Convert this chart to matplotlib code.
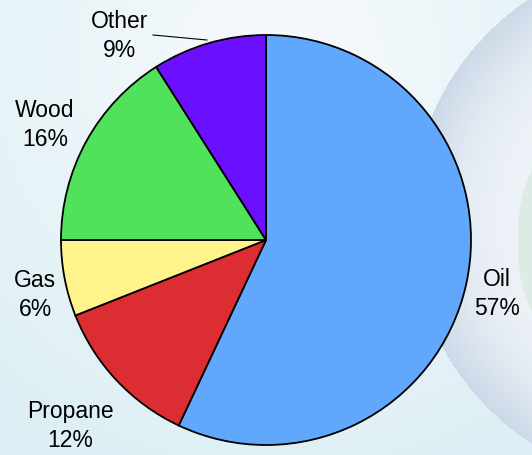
import numpy as np
import matplotlib
matplotlib.use('Agg')
import matplotlib.pyplot as plt

labels = ['Oil', 'Propane', 'Gas', 'Wood', 'Other']
shares = [57, 12, 6, 16, 9]
colors = ['#61a8fd', '#dc2d33', '#fff38c', '#4fe25a', '#6a10fe']

plt.rcParams['font.family'] = ['Liberation Sans', 'DejaVu Sans']

W, H = 532, 455
fig = plt.figure(figsize=(W / 100, H / 100), dpi=100)
ax = fig.add_axes([0, 0, 1, 1])

# soft background with a faint globe on the right
yy, xx = np.mgrid[0:H, 0:W]
base = np.array([0.87, 0.94, 0.96])
top = np.array([0.97, 0.98, 0.99])
t = np.clip(1 - np.hypot(xx - 280, yy - 60) / 420, 0, 1)[..., None]
bg = base * (1 - t) + top * t
d = np.hypot(xx - 676, yy - 220)
g = (d < 266)[..., None]
shade = np.clip((d - 150) / 116, 0, 1)[..., None] ** 2
globe = np.array([0.93, 0.95, 0.97]) * (1 - shade) + np.array([0.80, 0.85, 0.91]) * shade
bg = np.where(g, globe, bg)
land = (np.hypot((xx - 545) / 28, (yy - 240) / 80) < 1)[..., None]
bg = np.where(land & g, bg * 0.7 + np.array([0.74, 0.86, 0.74]) * 0.3, bg)
ax.imshow(bg, extent=(0, W, H, 0), zorder=0)

cx, cy, r = 266, 240, 205
# y axis runs downward, so startangle=-90 is the top and counterclock runs clockwise on screen
wedges, _ = ax.pie(shares, colors=colors, startangle=-90, counterclock=True,
                   center=(cx, cy), radius=r, frame=True,
                   wedgeprops=dict(edgecolor='black', linewidth=1.3))
ax.set_xlim(0, W)
ax.set_ylim(H, 0)
ax.axis('off')
for w in wedges:
    w.set_zorder(2)

label_pos = {'Oil': (497, 294), 'Propane': (70, 426), 'Gas': (35, 295),
             'Wood': (45, 125), 'Other': (120, 36)}
for lab, s in zip(labels, shares):
    x, y = label_pos[lab]
    ax.text(x, y, f'{lab}\n{s}%', ha='center', va='center', fontsize=16.5,
            linespacing=1.28, zorder=3)

ax.plot([153, 207], [35, 40], color='black', lw=0.8, zorder=3)

fig.savefig('out.png', dpi=100)
